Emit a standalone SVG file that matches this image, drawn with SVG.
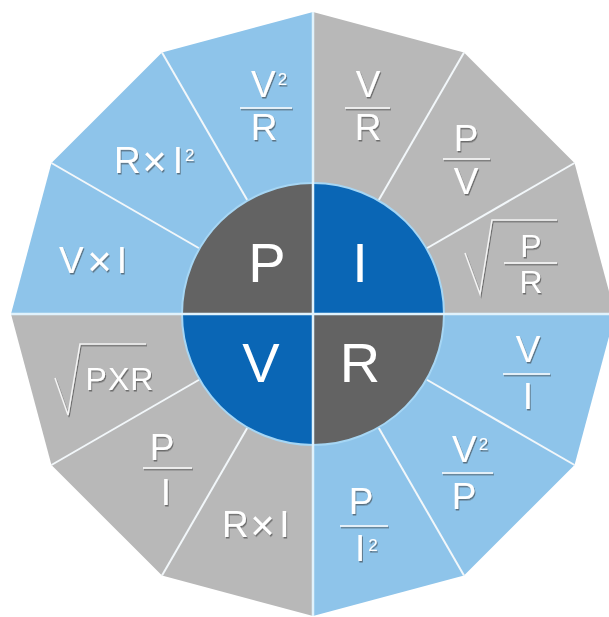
<svg xmlns="http://www.w3.org/2000/svg" width="609" height="617" viewBox="0 0 609 617">
<defs>
<style>
.lb{fill:#8ec4ea}
.gr{fill:#b8b8b8}
.dk{fill:#636363}
.bl{fill:#0a66b5}
.div{stroke:#f2f7fa;stroke-width:2;fill:none}
.axis{stroke:#e0f2fc;stroke-width:2.5;fill:none}
.t{font-family:"Liberation Sans",Arial,sans-serif;fill:#ffffff;font-size:37px;text-anchor:middle}
.ts{font-family:"Liberation Sans",Arial,sans-serif;fill:#ffffff;font-size:32px;text-anchor:middle}
.big{font-family:"Liberation Sans",Arial,sans-serif;fill:#ffffff;font-size:56px;text-anchor:middle}
.bar{stroke:#ffffff;stroke-width:1.6;fill:none}
.rad{stroke:#f4f4f4;stroke-width:1.5;fill:none;stroke-linejoin:miter}
.x{font-size:42px}
</style>
<filter id="sh" x="-30%" y="-30%" width="160%" height="160%">
<feDropShadow dx="1" dy="1.5" stdDeviation="0.7" flood-color="#333333" flood-opacity="0.55"/>
</filter>
</defs>
<rect width="609" height="617" fill="#ffffff"/>

<!-- outer wedges -->
<g id="w-P-V2R"><path class="lb" d="M313,314 L313,12 L162,52.46 Z"/>
<g filter="url(#sh)"><text class="t" x="251" y="97" style="text-anchor:start">V<tspan font-size="17" dx="2" dy="-12">2</tspan></text><line class="bar" x1="240" y1="108" x2="292" y2="108"/><text class="t" x="264" y="140">R</text></g></g>
<g id="w-P-RI2"><path class="lb" d="M313,314 L162,52.46 L51.46,163 Z"/>
<g filter="url(#sh)"><text class="t" x="114" y="173" style="text-anchor:start">R<tspan class="x" dx="1.5" dy="3">×</tspan><tspan dx="6" dy="-3">I</tspan><tspan font-size="17" dx="2" dy="-12">2</tspan></text></g></g>
<g id="w-P-VI"><path class="lb" d="M313,314 L51.46,163 L11,314 Z"/>
<g filter="url(#sh)"><text class="t" x="59" y="273" style="text-anchor:start">V<tspan class="x" dx="3.5" dy="3">×</tspan><tspan dx="5" dy="-3">I</tspan></text></g></g>

<g id="w-I-VR"><path class="gr" d="M313,314 L313,12 L464,52.46 Z"/>
<g filter="url(#sh)"><text class="t" x="368" y="97">V</text><line class="bar" x1="345" y1="108" x2="390" y2="108"/><text class="t" x="368" y="140">R</text></g></g>
<g id="w-I-PV"><path class="gr" d="M313,314 L464,52.46 L574.54,163 Z"/>
<g filter="url(#sh)"><text class="t" x="466" y="151">P</text><line class="bar" x1="443" y1="159" x2="490" y2="159"/><text class="t" x="466" y="194">V</text></g></g>
<g id="w-I-sqrtPR"><path class="gr" d="M313,314 L574.54,163 L615,314 Z"/>
<g filter="url(#sh)"><polyline class="rad" points="465,253 480,294 492,220 557,220"/><text class="ts" x="531" y="257">P</text><line class="bar" x1="504" y1="263" x2="557" y2="263"/><text class="ts" x="531" y="293">R</text></g></g>

<g id="w-R-VI"><path class="lb" d="M313,314 L615,314 L574.54,465 Z"/>
<g filter="url(#sh)"><text class="t" x="528" y="362">V</text><line class="bar" x1="503" y1="374" x2="550" y2="374"/><text class="t" x="528" y="409">I</text></g></g>
<g id="w-R-V2P"><path class="lb" d="M313,314 L574.54,465 L464,575.54 Z"/>
<g filter="url(#sh)"><text class="t" x="452" y="462" style="text-anchor:start">V<tspan font-size="17" dx="2" dy="-12">2</tspan></text><line class="bar" x1="442" y1="473" x2="493" y2="473"/><text class="t" x="464" y="509">P</text></g></g>
<g id="w-R-PI2"><path class="lb" d="M313,314 L464,575.54 L313,616 Z"/>
<g filter="url(#sh)"><text class="t" x="361" y="514">P</text><line class="bar" x1="340" y1="526" x2="388" y2="526"/><text class="t" x="355" y="561" style="text-anchor:start">I<tspan font-size="17" dx="3" dy="-10">2</tspan></text></g></g>

<g id="w-V-RI"><path class="gr" d="M313,314 L313,616 L162,575.54 Z"/>
<g filter="url(#sh)"><text class="t" x="222" y="537" style="text-anchor:start">R<tspan class="x" dx="1.5" dy="3">×</tspan><tspan dx="4.5" dy="-3">I</tspan></text></g></g>
<g id="w-V-PI"><path class="gr" d="M313,314 L162,575.54 L51.46,465 Z"/>
<g filter="url(#sh)"><text class="t" x="162" y="460">P</text><line class="bar" x1="143" y1="468" x2="192" y2="468"/><text class="t" x="166" y="505">I</text></g></g>
<g id="w-V-sqrtPR"><path class="gr" d="M313,314 L51.46,465 L11,314 Z"/>
<g filter="url(#sh)"><polyline class="rad" points="55,378 68,415 80,344 146,344"/><text class="ts" x="120" y="390" style="letter-spacing:1px">PXR</text></g></g>

<!-- connectors: dividers -->
<g id="connectors">
<line class="div" x1="247.5" y1="200.55" x2="162" y2="52.46"/>
<line class="div" x1="199.55" y1="248.5" x2="51.46" y2="163"/>
<line class="div" x1="378.5" y1="200.55" x2="464" y2="52.46"/>
<line class="div" x1="426.45" y1="248.5" x2="574.54" y2="163"/>
<line class="div" x1="426.45" y1="379.5" x2="574.54" y2="465"/>
<line class="div" x1="378.5" y1="427.45" x2="464" y2="575.54"/>
<line class="div" x1="247.5" y1="427.45" x2="162" y2="575.54"/>
<line class="div" x1="199.55" y1="379.5" x2="51.46" y2="465"/>
</g>

<!-- center quadrants -->
<g id="c-P"><path class="dk" d="M313,314 L182,314 A131,131 0 0 1 313,183 Z"/><text class="big" x="267" y="282">P</text></g>
<g id="c-I"><path class="bl" d="M313,314 L313,183 A131,131 0 0 1 444,314 Z"/><text class="big" x="360" y="282">I</text></g>
<g id="c-R"><path class="dk" d="M313,314 L444,314 A131,131 0 0 1 313,445 Z"/><text class="big" x="360" y="382">R</text></g>
<g id="c-V"><path class="bl" d="M313,314 L313,445 A131,131 0 0 1 182,314 Z"/><text class="big" x="261" y="382">V</text></g>

<g id="axes">
<circle cx="313" cy="314" r="131" fill="none" stroke="#a6d6f4" stroke-width="2"/>
<line class="axis" x1="313" y1="12" x2="313" y2="616"/>
<line class="axis" x1="11" y1="314" x2="609" y2="314"/>
</g>
</svg>
